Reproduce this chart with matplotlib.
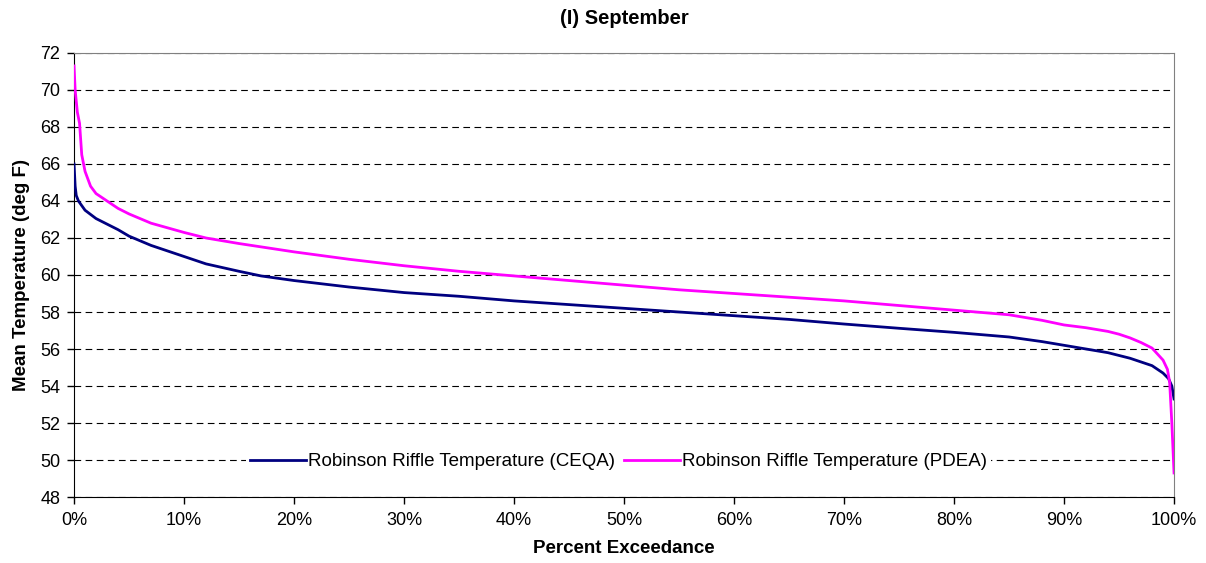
import matplotlib.pyplot as plt
from matplotlib.ticker import FuncFormatter

plt.rcParams['font.family'] = ['Liberation Sans', 'DejaVu Sans']

# percent exceedance (%) and temperatures (deg F)
ceqa_x = [0, 0.1, 0.2, 0.4, 1, 2, 3, 4, 5, 7, 9, 12, 15, 17, 20, 25, 30, 35, 40, 45, 50,
          55, 60, 65, 70, 75, 80, 85, 88, 90, 92, 94, 95, 96, 97, 98, 99, 99.5, 99.8, 100]
ceqa_y = [66.0, 64.8, 64.3, 64.0, 63.5, 63.05, 62.75, 62.45, 62.1, 61.6, 61.2, 60.6, 60.2, 59.95, 59.7,
          59.35, 59.05, 58.85, 58.6, 58.4, 58.2, 58.0, 57.8, 57.6, 57.35, 57.12, 56.9, 56.65, 56.4,
          56.2, 56.0, 55.8, 55.65, 55.5, 55.3, 55.1, 54.7, 54.4, 54.0, 53.3]

pdea_x = [0, 0.1, 0.3, 0.5, 0.7, 1, 1.5, 2, 2.5, 3, 4, 5, 7, 10, 12, 15, 20, 25, 30, 35, 40, 45,
          50, 55, 60, 65, 70, 75, 80, 85, 88, 90, 92, 94, 95, 96, 97, 98, 99, 99.4, 99.6, 99.8, 100]
pdea_y = [71.3, 70.0, 68.8, 68.2, 66.5, 65.6, 64.8, 64.4, 64.2, 64.0, 63.6, 63.3, 62.8, 62.3, 62.0,
          61.7, 61.25, 60.85, 60.5, 60.2, 59.95, 59.7, 59.45, 59.2, 59.0, 58.8, 58.6, 58.35, 58.1,
          57.85, 57.55, 57.3, 57.15, 56.95, 56.8, 56.6, 56.35, 56.05, 55.4, 54.9, 54.2, 52.0, 49.3]

fig = plt.figure(figsize=(12.06, 5.63), dpi=100)
ax = fig.add_axes([0.0614, 0.1172, 0.9121, 0.7887])

ax.plot(ceqa_x, ceqa_y, color='#000080', lw=2, label='Robinson Riffle Temperature (CEQA)', zorder=3)
ax.plot(pdea_x, pdea_y, color='#ff00ff', lw=2, label='Robinson Riffle Temperature (PDEA)', zorder=3)

ax.set_xlim(0, 100)
ax.set_ylim(48, 72)
ax.set_xticks(range(0, 101, 10))
ax.set_yticks(range(48, 73, 2))
ax.xaxis.set_major_formatter(FuncFormatter(lambda v, p: f"{int(v)}%"))
ax.yaxis.grid(True, color='black', linestyle=(0, (6, 4)), lw=0.8)
ax.set_axisbelow(True)
ax.tick_params(labelsize=13, direction='out', length=5, width=1)
ax.tick_params(axis='x', pad=6)
ax.tick_params(axis='y', pad=5)
for s in ['top', 'right']:
    ax.spines[s].set_color('#808080')
for s in ['left', 'bottom']:
    ax.spines[s].set_color('black')

ax.set_title('(I) September', fontsize=14.5, fontweight='bold', pad=21)
ax.set_xlabel('Percent Exceedance', fontsize=13.5, fontweight='bold', labelpad=8)
ax.set_ylabel('Mean Temperature (deg F)', fontsize=13.5, fontweight='bold', labelpad=7)

leg = ax.legend(loc='center', bbox_to_anchor=(0.495, 0.079), ncol=2, frameon=True, fontsize=13.5,
                handlelength=3.0, handletextpad=0.1, columnspacing=0.5, borderpad=0.2,
                borderaxespad=0, fancybox=False)
leg.get_frame().set_edgecolor('none')
leg.get_frame().set_facecolor('white')
leg.get_frame().set_alpha(1)

fig.savefig('out.png', dpi=100)
